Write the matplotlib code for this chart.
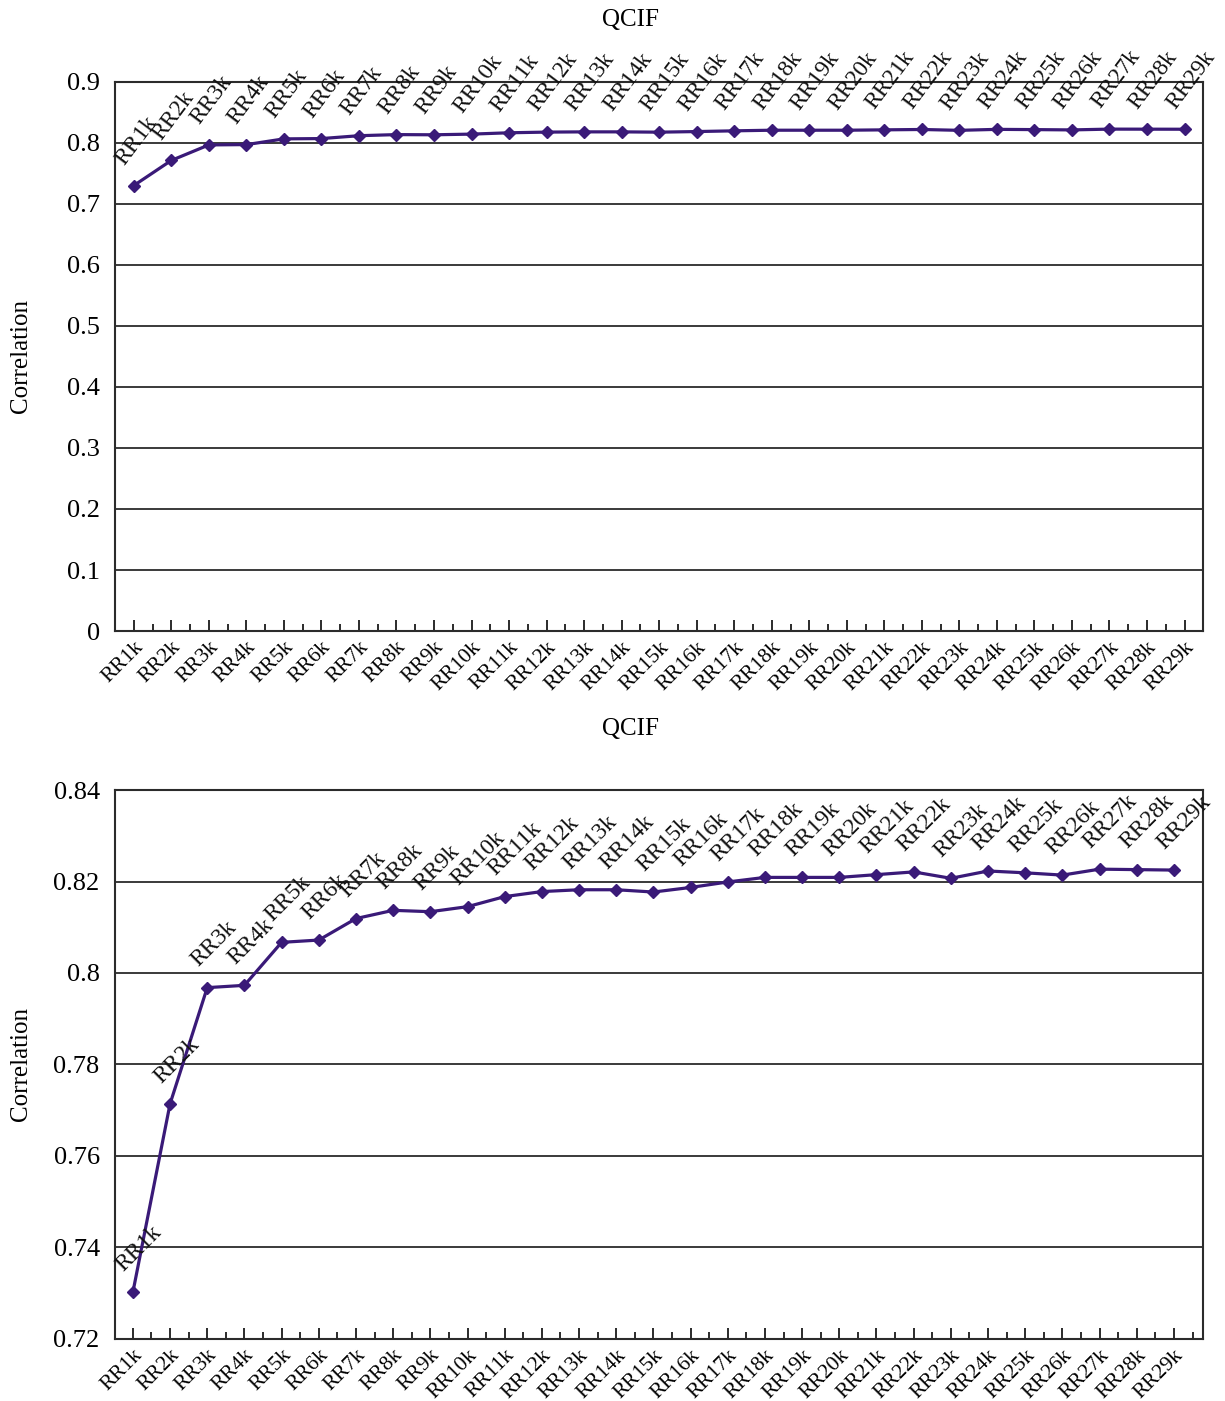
import numpy as np
import matplotlib
matplotlib.use("Agg")
import matplotlib.pyplot as plt
from matplotlib.ticker import MultipleLocator, FixedLocator

plt.rcParams['font.family'] = ['Liberation Serif', 'DejaVu Serif']

# data
labels = ['RR%dk' % i for i in range(1, 30)]
corr = [0.7302, 0.7714, 0.7968, 0.7973, 0.8067, 0.8072, 0.8119, 0.8137, 0.8134,
        0.8145, 0.8167, 0.8178, 0.8182, 0.8182, 0.8177, 0.8187, 0.8199, 0.8209,
        0.8209, 0.8209, 0.8215, 0.8221, 0.8207, 0.8223, 0.8219, 0.8214, 0.8227,
        0.8226, 0.8225]
title = 'QCIF'
ylabel = 'Correlation'

line_color = '#3a1a78'
frame_color = '#2b2b2b'

fig = plt.figure(figsize=(12.25, 14.01), dpi=100)
ax1 = fig.add_axes([0.0939, 0.5496, 0.8884, 0.3919])
ax2 = fig.add_axes([0.0939, 0.0443, 0.8884, 0.3918])

x = np.arange(len(labels))


def style(ax, ylim, ystep, xlim, yfmt, label_rot):
    ax.plot(x, corr, color=line_color, lw=2.3, marker='D', ms=6, zorder=3)
    ax.set_xlim(*xlim)
    ax.set_ylim(*ylim)
    ax.yaxis.set_major_locator(MultipleLocator(ystep))
    ax.yaxis.set_major_formatter(yfmt)
    ax.grid(axis='y', color=frame_color, lw=1.3)
    ax.set_axisbelow(True)
    ax.set_xticks(x)
    ax.set_xticklabels(labels, rotation=45, ha='right', va='top',
                       rotation_mode='anchor', fontsize=15.5)
    ax.xaxis.set_minor_locator(FixedLocator(np.arange(-0.5, len(labels), 1.0)))
    ax.tick_params(axis='x', which='major', direction='in', length=8,
                   width=1.4, color=frame_color, pad=5)
    ax.tick_params(axis='x', which='minor', direction='in', length=5,
                   width=1.4, color=frame_color)
    ax.tick_params(axis='y', length=0, labelsize=19, pad=11)
    for s in ax.spines.values():
        s.set_color(frame_color)
        s.set_linewidth(1.5)
    ax.set_ylabel(ylabel, fontsize=18)
    ax.yaxis.set_label_coords(-0.0763, 0.5)
    ax.text(0.474, 1.112, title, transform=ax.transAxes, ha='center',
            va='center', fontsize=18)
    for xi, yi, lab in zip(x, corr, labels):
        ax.annotate(lab, (xi, yi), xytext=(-4, 12), textcoords='offset points',
                    rotation=label_rot, rotation_mode='anchor', ha='left',
                    va='bottom', fontsize=17, color='#111111', zorder=4,
                    annotation_clip=False)


def fmt_top(v, pos):
    return '0' if abs(v) < 1e-9 else ('%.1f' % v)


def fmt_bot(v, pos):
    s = '%.2f' % v
    return s.rstrip('0').rstrip('.') if s.endswith('0') else s


style(ax1, (0, 0.9), 0.1, (-0.5, 28.5), plt.FuncFormatter(fmt_top), 53)
style(ax2, (0.72, 0.84), 0.02, (-0.48, 28.79), plt.FuncFormatter(fmt_bot), 45)

fig.savefig('out.png', dpi=100, facecolor='white')
